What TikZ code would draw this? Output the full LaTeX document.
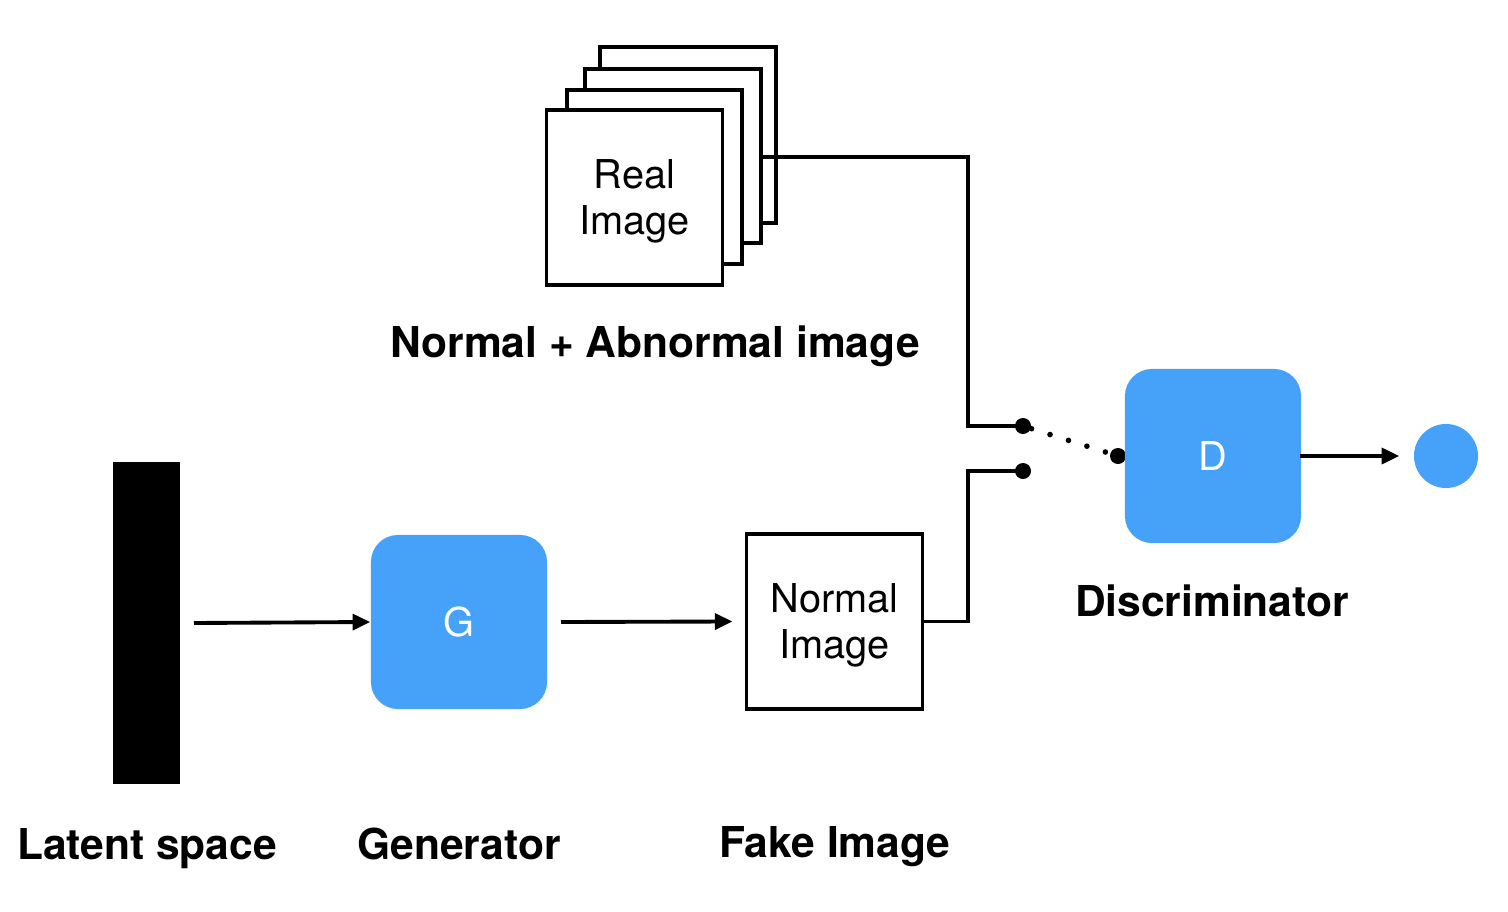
\documentclass[tikz,border=0pt]{standalone}
\usepackage{fontspec}
\setmainfont{TeX Gyre Heros}
\usetikzlibrary{arrows.meta}
\definecolor{gblue}{RGB}{70,162,248}
\begin{document}
\begin{tikzpicture}[x=0.01cm,y=-0.01cm,
  wire/.style={line width=1.1pt},
  arr/.style={wire,-{Triangle[length=5pt,width=4.5pt]}},
  imgbox/.style={draw,line width=1.1pt,fill=white,inner sep=0pt,minimum width=1.76cm,minimum height=1.75cm},
  imgtxt/.style={align=center,inner sep=0pt,font=\fontsize{11.3}{13.1}\selectfont},
  netbox/.style={fill=gblue,rounded corners=0.27cm,minimum width=1.76cm,minimum height=1.74cm,text=white,font=\fontsize{11.3}{13}\selectfont},
  lbl/.style={font=\bfseries\fontsize{12.1}{14}\selectfont},
  swdot/.style={circle,fill=black,inner sep=0pt,minimum size=0.16cm}]
\useasboundingbox (0,0) rectangle (1508,912);
% latent space
\fill (113,462) rectangle (180,784);
\coordinate (latR) at (194,623);
\node[lbl] (latlbl) at (147,849) {Latent space};
% generator
\node[netbox] (G) at (459,622) {G};
\node[lbl] (glbl) at (459,844) {Generator};
% fake image
\node[imgbox] (fake) at (834.5,621.5) {};
\node[imgtxt] (faketxt) at (834.5,625.5) {Normal\\Image};
\node[lbl] (fakelbl) at (835,847) {Fake Image};
% real image stack
\draw[wire,fill=white] (600,47) rectangle (776,223);
\draw[wire,fill=white] (585,69) rectangle (761,243);
\draw[wire,fill=white] (567,90) rectangle (742,264);
\node[imgbox] (real) at (634.5,197.5) {};
\node[imgtxt] (realtxt) at (634.5,201.5) {Real\\Image};
\node[lbl] (reallbl) at (655,346) {Normal + Abnormal image};
\coordinate (stackR) at (762,157);
% switch
\node[swdot] (s1) at (1023,426) {};
\node[swdot] (s2) at (1023,471) {};
\node[swdot] (s3) at (1118,456) {};
% discriminator
\node[netbox] (D) at (1213,456) {D};
\node[lbl] (dlbl) at (1212,601) {Discriminator};
\node[circle,fill=gblue,minimum size=0.64cm,inner sep=0pt] (out) at (1446,456) {};
% connectors
\coordinate (gout) at (561,622);
\draw[arr] (latR) -- (G.west);
\draw[arr] (gout) -- ([xshift=-0.12cm]fake.west);
\draw[wire] (stackR) -| (968,426) -- (s1.center);
\draw[wire] (fake.east) -| (968,471) -- (s2.center);
\draw[line width=1.6pt,dash pattern=on 0pt off 5.5pt,line cap=round,shorten <=0.09cm,shorten >=0.09cm] (s1.center) -- (s3.center);
\draw[arr] ([xshift=-0.02cm]D.east) -- ([xshift=-0.14cm]out.west);
\end{tikzpicture}
\end{document}
